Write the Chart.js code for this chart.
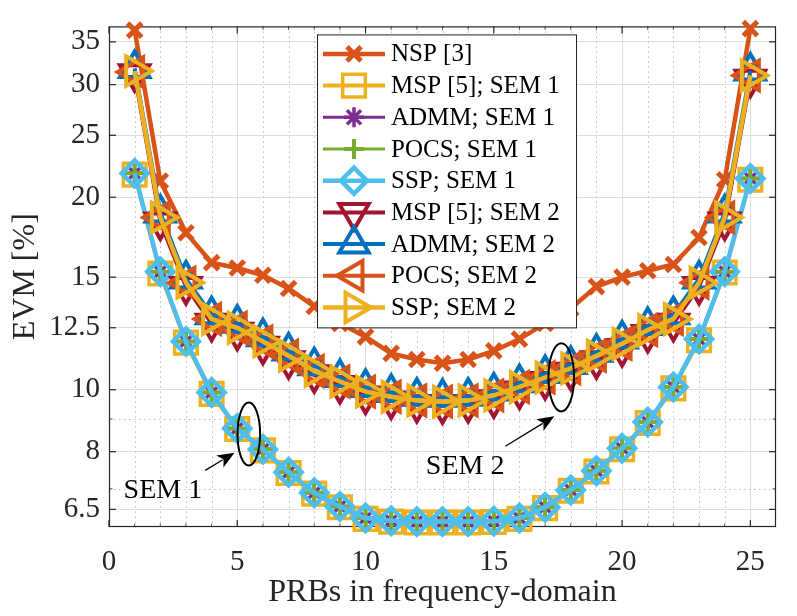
<!DOCTYPE html>
<html>
<head>
<meta charset="utf-8">
<script src="https://cdn.jsdelivr.net/npm/chart.js@4.4.1/dist/chart.umd.min.js"></script>
<style>
  html, body { margin: 0; padding: 0; background: #fff; }
  #wrap { width: 797px; height: 616px; }
</style>
</head>
<body>
<div id="wrap"><canvas id="evm" width="797" height="616"></canvas></div>
<script>
// PRB index on the x axis
const prb = [1, 2, 3, 4, 5, 6, 7, 8, 9, 10, 11, 12, 13, 14, 15, 16, 17, 18, 19, 20, 21, 22, 23, 24, 25];

// EVM [%] per method
const nsp      = [36.5, 21.2, 17.6, 15.8, 15.5, 15.1, 14.4, 13.5, 12.7, 12.1, 11.4, 11.15, 11.0, 11.15, 11.5, 12.0, 12.7, 13.4, 14.5, 15.0, 15.35, 15.7, 17.3, 21.3, 36.7];
const mspSem1  = [21.7, 15.2, 11.85, 9.85, 8.68, 8.04, 7.41, 6.88, 6.55, 6.28, 6.22, 6.2, 6.2, 6.2, 6.21, 6.28, 6.53, 6.95, 7.45, 8.07, 8.87, 10.05, 11.95, 15.25, 21.3];
const admmSem1 = [21.8, 15.3, 11.9, 9.9, 8.7, 8.07, 7.43, 6.9, 6.57, 6.3, 6.24, 6.22, 6.22, 6.22, 6.23, 6.3, 6.55, 6.97, 7.47, 8.1, 8.9, 10.1, 12.0, 15.3, 21.4];
const pocsSem1 = [21.8, 15.3, 11.9, 9.9, 8.7, 8.07, 7.43, 6.9, 6.57, 6.3, 6.24, 6.22, 6.22, 6.22, 6.23, 6.3, 6.55, 6.97, 7.47, 8.1, 8.9, 10.1, 12.0, 15.3, 21.4];
const sspSem1  = [21.8, 15.3, 11.9, 9.9, 8.7, 8.07, 7.43, 6.9, 6.57, 6.3, 6.24, 6.22, 6.22, 6.22, 6.23, 6.3, 6.55, 6.97, 7.47, 8.1, 8.9, 10.1, 12.0, 15.3, 21.4];
const mspSem2  = [31.2, 18.3, 14.5, 12.7, 12.3, 11.7, 11.1, 10.55, 10.15, 9.78, 9.6, 9.48, 9.44, 9.48, 9.65, 9.95, 10.3, 10.65, 11.1, 11.6, 12.2, 12.7, 14.5, 18.3, 30.6];
const admmSem2 = [31.8, 18.9, 14.9, 13.1, 12.7, 12.1, 11.5, 10.9, 10.45, 10.08, 9.9, 9.77, 9.73, 9.77, 9.95, 10.25, 10.6, 10.95, 11.45, 12.0, 12.6, 13.1, 14.9, 18.9, 31.5];
const pocsSem2 = [31.4, 18.6, 14.7, 12.9, 12.5, 11.9, 11.3, 10.7, 10.3, 9.93, 9.75, 9.62, 9.58, 9.62, 9.8, 10.1, 10.45, 10.8, 11.3, 11.8, 12.4, 12.9, 14.7, 18.6, 31.0];
const sspSem2  = [31.5, 18.6, 14.7, 12.9, 12.5, 11.9, 11.3, 10.7, 10.3, 9.93, 9.75, 9.62, 9.58, 9.62, 9.8, 10.1, 10.45, 10.8, 11.3, 11.8, 12.4, 12.9, 14.7, 18.6, 31.0];

// axis ticks
const xTicks = [0, 5, 10, 15, 20, 25];
const xMinor = [1, 2, 3, 4, 6, 7, 8, 9, 11, 12, 13, 14, 16, 17, 18, 19, 21, 22, 23, 24];
const yTicks = [6.5, 8, 10, 12.5, 15, 20, 25, 30, 35];
const yMinor = [7, 9];

const serif = "'Liberation Serif', 'Times New Roman', serif";
const ink = '#262626';

// label, values, colour, marker
const series = [
  { label: 'NSP [3]',        values: nsp,      color: '#D95319', style: 'crossRot', rot: 0,   r: 10, bw: 5,   lw: 4.5 },
  { label: 'MSP [5]; SEM 1', values: mspSem1,  color: '#EDB120', style: 'rect',     rot: 0,   r: 16, bw: 3.5, lw: 4 },
  { label: 'ADMM; SEM 1',    values: admmSem1, color: '#7E2F8E', style: 'star',     rot: 0,   r: 10, bw: 3.5, lw: 3 },
  { label: 'POCS; SEM 1',    values: pocsSem1, color: '#77AC30', style: 'cross',    rot: 0,   r: 10, bw: 4,   lw: 3 },
  { label: 'SSP; SEM 1',     values: sspSem1,  color: '#4DBEEE', style: 'rectRot',  rot: 0,   r: 13, bw: 4.5, lw: 4.5 },
  { label: 'MSP [5]; SEM 2', values: mspSem2,  color: '#A2142F', style: 'triangle', rot: 180, r: 17, bw: 4,   lw: 4 },
  { label: 'ADMM; SEM 2',    values: admmSem2, color: '#0072BD', style: 'triangle', rot: 0,   r: 17, bw: 4,   lw: 4 },
  { label: 'POCS; SEM 2',    values: pocsSem2, color: '#D95319', style: 'triangle', rot: 270, r: 17, bw: 4,   lw: 4 },
  { label: 'SSP; SEM 2',     values: sspSem2,  color: '#EDB120', style: 'triangle', rot: 90,  r: 17, bw: 4,   lw: 4.5 }
];

// ellipse + arrow + text callouts, in data units
const callouts = [
  { text: 'SEM 1', tx: 0.57, ty: 6.76, ex: 5.45, ew: 0.44, eTop: 9.55, eBot: 7.61, from: [3.75, 7.48], to: [4.89, 7.97] },
  { text: 'SEM 2', tx: 12.35, ty: 7.38, ex: 17.63, ew: 0.5, eTop: 11.82, eBot: 9.25, from: [15.45, 8.16], to: [17.36, 9.09] }
];

const datasets = series.map((s, i) => ({
  label: s.label,
  data: prb.map((x, k) => ({ x: x, y: s.values[k] })),
  borderColor: s.color,
  backgroundColor: s.color,
  borderWidth: s.lw,
  pointStyle: s.style,
  pointRotation: s.rot,
  pointRadius: s.r,
  pointHoverRadius: s.r,
  pointBorderWidth: s.bw,
  pointBorderColor: s.color,
  pointBackgroundColor: 'rgba(0,0,0,0)',
  tension: 0,
  clip: false,
  order: series.length - i
}));

function seg(ctx, x0, y0, x1, y1) {
  ctx.beginPath();
  ctx.moveTo(x0, y0);
  ctx.lineTo(x1, y1);
  ctx.stroke();
}

const matlabFrame = {
  id: 'matlabFrame',
  beforeDatasetsDraw(chart) {
    const { ctx, chartArea: a, scales: { x, y } } = chart;
    ctx.save();
    // dotted minor grid
    ctx.strokeStyle = '#bdbdbd';
    ctx.lineWidth = 1;
    ctx.setLineDash([1.5, 3.5]);
    xMinor.forEach(v => {
      const px = Math.round(x.getPixelForValue(v)) + 0.5;
      seg(ctx, px, a.top, px, a.bottom);
    });
    yMinor.forEach(v => {
      const py = Math.round(y.getPixelForValue(v)) + 0.5;
      seg(ctx, a.left, py, a.right, py);
    });
    ctx.setLineDash([]);
    // box
    ctx.strokeStyle = ink;
    ctx.lineWidth = 1.2;
    ctx.strokeRect(a.left + 0.5, a.top + 0.5, a.right - a.left - 1, a.bottom - a.top - 1);
    // inward ticks
    xTicks.forEach(v => {
      const px = x.getPixelForValue(v);
      seg(ctx, px, a.bottom, px, a.bottom - 7);
      seg(ctx, px, a.top, px, a.top + 7);
    });
    yTicks.forEach(v => {
      const py = y.getPixelForValue(v);
      seg(ctx, a.left, py, a.left + 7, py);
      seg(ctx, a.right, py, a.right - 7, py);
    });
    ctx.lineWidth = 0.8;
    xMinor.forEach(v => {
      const px = x.getPixelForValue(v);
      seg(ctx, px, a.bottom, px, a.bottom - 3.5);
      seg(ctx, px, a.top, px, a.top + 3.5);
    });
    yMinor.forEach(v => {
      const py = y.getPixelForValue(v);
      seg(ctx, a.left, py, a.left + 3.5, py);
      seg(ctx, a.right, py, a.right - 3.5, py);
    });
    ctx.restore();
  },
  afterDatasetsDraw(chart) {
    const { ctx, scales: { x, y } } = chart;
    ctx.save();
    callouts.forEach(c => {
      // ellipse
      const cx = x.getPixelForValue(c.ex);
      const yt = y.getPixelForValue(c.eTop);
      const yb = y.getPixelForValue(c.eBot);
      const rx = Math.abs(x.getPixelForValue(c.ex + c.ew) - cx);
      ctx.strokeStyle = '#000';
      ctx.lineWidth = 2;
      ctx.beginPath();
      ctx.ellipse(cx, (yt + yb) / 2, rx, Math.abs(yb - yt) / 2, 0, 0, Math.PI * 2);
      ctx.stroke();
      // arrow
      const x0 = x.getPixelForValue(c.from[0]), y0 = y.getPixelForValue(c.from[1]);
      const x1 = x.getPixelForValue(c.to[0]), y1 = y.getPixelForValue(c.to[1]);
      const ang = Math.atan2(y1 - y0, x1 - x0);
      const hl = 17, hw = 7;
      ctx.lineWidth = 1.3;
      seg(ctx, x0, y0, x1 - Math.cos(ang) * hl * 0.8, y1 - Math.sin(ang) * hl * 0.8);
      ctx.fillStyle = '#000';
      ctx.beginPath();
      ctx.moveTo(x1, y1);
      ctx.lineTo(x1 - Math.cos(ang) * hl - Math.sin(ang) * hw, y1 - Math.sin(ang) * hl + Math.cos(ang) * hw);
      ctx.lineTo(x1 - Math.cos(ang) * hl * 0.75, y1 - Math.sin(ang) * hl * 0.75);
      ctx.lineTo(x1 - Math.cos(ang) * hl + Math.sin(ang) * hw, y1 - Math.sin(ang) * hl - Math.cos(ang) * hw);
      ctx.closePath();
      ctx.fill();
      // text
      ctx.font = '28px ' + serif;
      ctx.textBaseline = 'alphabetic';
      ctx.textAlign = 'left';
      ctx.fillText(c.text, x.getPixelForValue(c.tx), y.getPixelForValue(c.ty));
    });
    ctx.restore();
  },
  afterDraw(chart) {
    // legend box inside the axes, drawn on top
    const { ctx, chartArea: a } = chart;
    const left = a.left + 208, top = a.top + 8, w = 259, h = 293, row = 31.7;
    ctx.save();
    ctx.fillStyle = '#fff';
    ctx.fillRect(left, top, w, h);
    ctx.strokeStyle = ink;
    ctx.lineWidth = 1;
    ctx.strokeRect(left + 0.5, top + 0.5, w, h);
    series.forEach((s, i) => {
      const cy = top + 19.5 + i * row;
      ctx.strokeStyle = s.color;
      ctx.lineWidth = s.lw;
      seg(ctx, left + 6, cy, left + 68, cy);
      ctx.fillStyle = 'rgba(0,0,0,0)';
      ctx.lineWidth = s.bw;
      Chart.helpers.drawPoint(ctx, {
        pointStyle: s.style, rotation: s.rot, radius: s.r, borderWidth: s.bw
      }, left + 37, cy);
      ctx.fillStyle = '#000';
      ctx.font = '25px ' + serif;
      ctx.textBaseline = 'middle';
      ctx.textAlign = 'left';
      ctx.fillText(s.label, left + 74, cy + 1);
    });
    ctx.restore();
  }
};

new Chart(document.getElementById('evm'), {
  type: 'line',
  data: { datasets: datasets },
  plugins: [matlabFrame],
  options: {
    responsive: false,
    animation: false,
    events: [],
    layout: { padding: { top: 9, right: 10, bottom: 0, left: 0 } },
    plugins: { legend: { display: false }, tooltip: { enabled: false } },
    scales: {
      x: {
        type: 'linear',
        min: 0,
        max: 26,
        afterBuildTicks: s => { s.ticks = xTicks.map(v => ({ value: v })); },
        afterFit: s => { s.height = 89; },
        ticks: { color: ink, font: { family: serif, size: 29 }, padding: 18, maxRotation: 0, callback: v => String(v) },
        grid: { color: '#dedede', lineWidth: 1, drawTicks: false },
        border: { display: false },
        title: { display: true, text: 'PRBs in frequency-domain', color: ink, font: { family: serif, size: 32 }, padding: { top: 0, bottom: 4 } }
      },
      y: {
        type: 'logarithmic',
        min: 6.1,
        max: 37,
        afterBuildTicks: s => { s.ticks = yTicks.map(v => ({ value: v })); },
        afterFit: s => { s.width = 109; },
        ticks: { color: ink, font: { family: serif, size: 29 }, padding: 9, callback: v => String(v) },
        grid: { color: '#dedede', lineWidth: 1, drawTicks: false },
        border: { display: false },
        title: { display: true, text: 'EVM [%]', color: ink, font: { family: serif, size: 32 }, padding: { top: 6, bottom: 0 } }
      }
    }
  }
});
</script>
</body>
</html>
